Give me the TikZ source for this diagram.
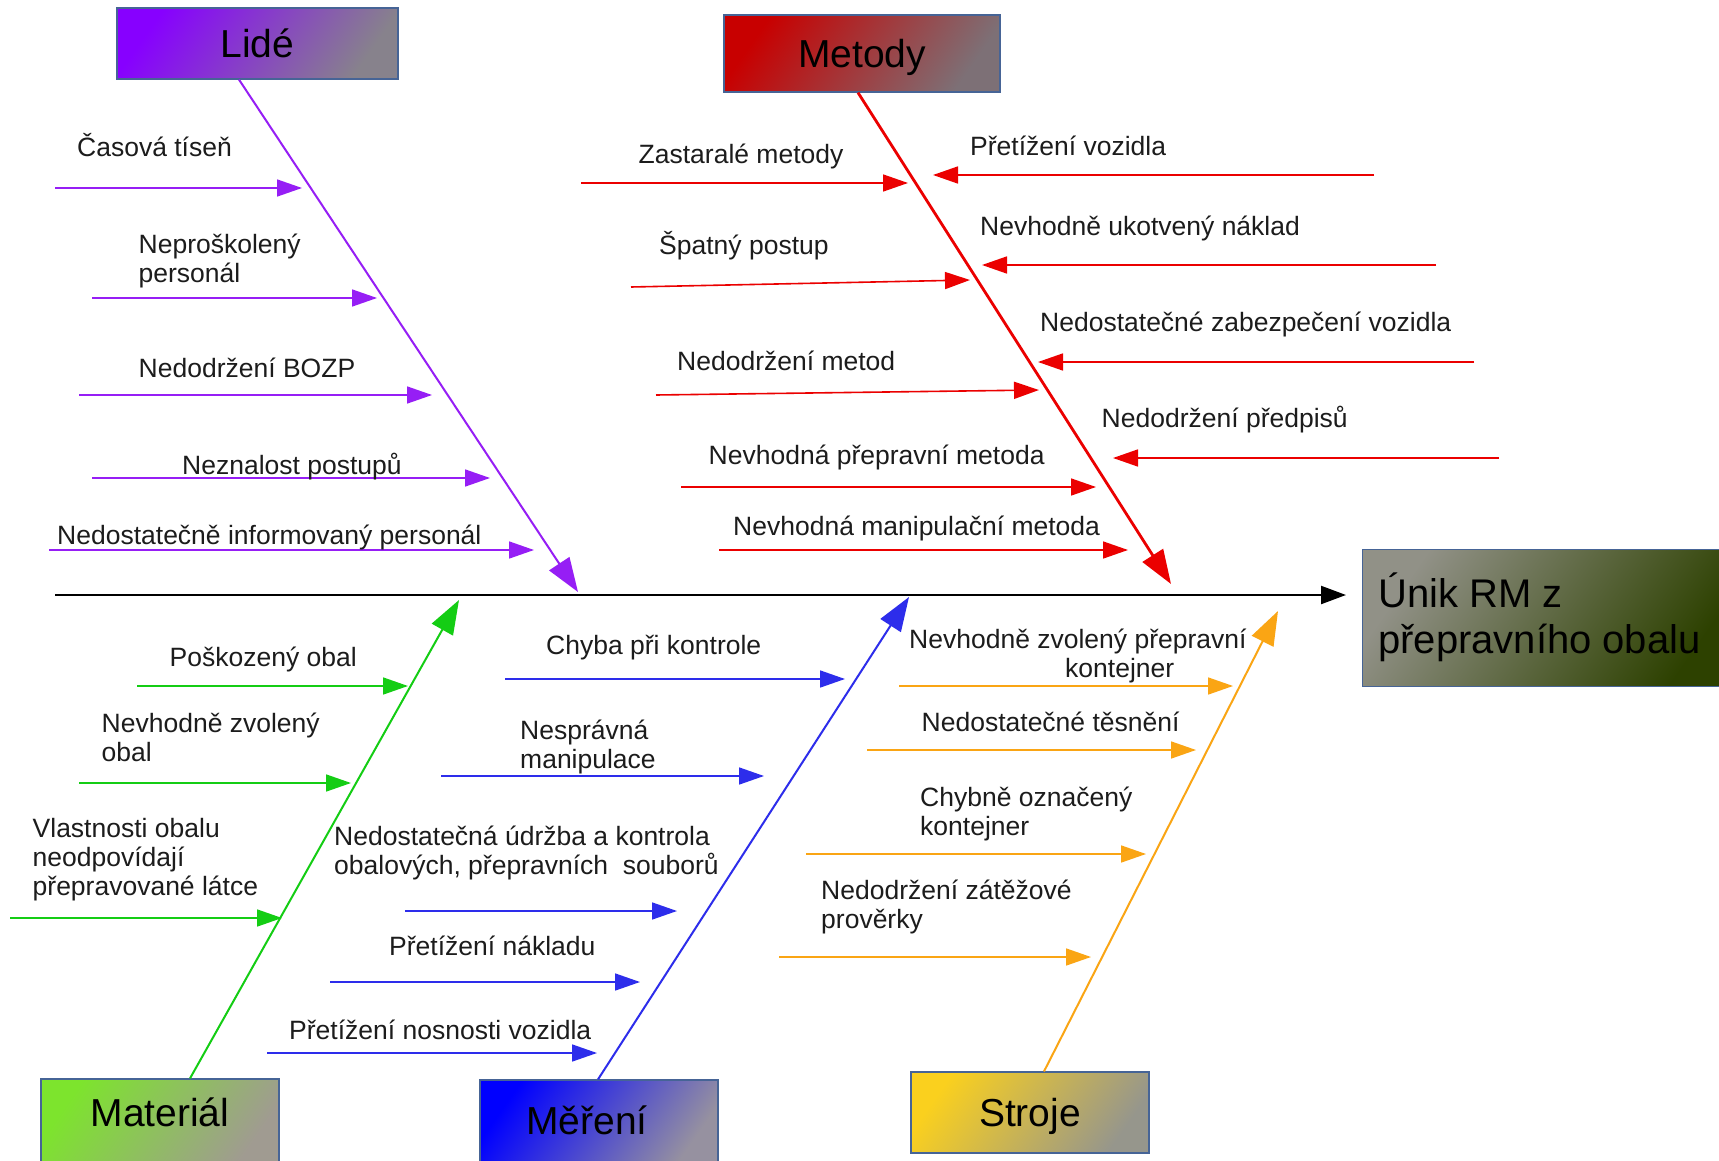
\documentclass[tikz,border=0pt]{standalone}
\usepackage{fontspec}
\setmainfont{Liberation Sans}
\usetikzlibrary{arrows.meta}
\definecolor{txtc}{RGB}{28,28,28}
\definecolor{purp}{RGB}{150,30,245}
\definecolor{redc}{RGB}{235,0,0}
\definecolor{grnc}{RGB}{20,205,20}
\definecolor{bluc}{RGB}{45,45,235}
\definecolor{orgc}{RGB}{250,165,20}
\definecolor{boxedge}{RGB}{70,100,150}
\definecolor{lideL}{RGB}{135,0,255}
\definecolor{lideR}{RGB}{135,130,140}
\definecolor{metL}{RGB}{200,0,0}
\definecolor{metR}{RGB}{125,112,118}
\definecolor{matL}{RGB}{125,228,45}
\definecolor{matR}{RGB}{160,155,145}
\definecolor{merL}{RGB}{0,0,255}
\definecolor{merR}{RGB}{150,145,160}
\definecolor{strL}{RGB}{250,208,30}
\definecolor{strR}{RGB}{150,150,140}
\definecolor{outL}{RGB}{145,145,135}
\definecolor{outR}{RGB}{45,65,0}
\tikzset{
  lab/.style={anchor=base west, inner sep=0pt, text=txtc, font=\fontsize{26.5}{29}\selectfont, align=left},
  biglab/.style={anchor=base west, inner sep=0pt, text=black, font=\fontsize{40}{46}\selectfont, align=left},
  catbox/.style={draw=boxedge, line width=1.2pt, inner sep=0pt, text height=28pt, text depth=0pt, font=\fontsize{39}{44}\selectfont, text=black},
  grad/.style n args={2}{left color=#1, right color=#2, shading angle=55},
  cause/.style={line width=1.6pt, -{Triangle[length=25pt,width=17pt]}},
  bone/.style={line width=2pt, -{Triangle[length=34pt,width=24pt]}},
  spine/.style={line width=2.2pt, black, -{Triangle[length=25pt,width=18pt]}}
}
\begin{document}
\begin{tikzpicture}[x=1pt,y=-1pt]
\useasboundingbox[fill=white] (0,0) rectangle (1719,1161);

% ---------- category boxes ----------
\node[catbox, grad={lideL}{lideR}, minimum width=281pt, minimum height=71pt] (lide) at (257.5,43.5) {Lidé};
\node[catbox, grad={metL}{metR}, minimum width=276pt, minimum height=77pt] (metody) at (862,53.5) {Metody};
\node[catbox, grad={matL}{matR}, minimum width=238pt, minimum height=86pt, text depth=19pt] (material) at (160,1122) {Materiál};
\node[catbox, grad={merL}{merR}, minimum width=238pt, minimum height=85pt, text depth=4pt] (mereni) at (599,1122.5) {Měření\hspace*{24pt}};
\node[catbox, grad={strL}{strR}, minimum width=238pt, minimum height=81pt] (stroje) at (1030,1112.5) {Stroje};
\node[draw=boxedge, line width=1.2pt, grad={outL}{outR}, minimum width=372pt, minimum height=137pt, anchor=north west, inner sep=0pt] (out) at (1362,549) {};
\node[biglab] (outtext) at (1378,653) {Únik RM z\\přepravního obalu};

% ---------- spine ----------
\coordinate (sps) at (55,595);
\coordinate (spe) at (1346,595);
\draw[spine] (sps) -- (spe);

% ---------- Lidé ----------
\coordinate (lidetip) at (578,592);
\draw[bone, purp] ([xshift=-18.5pt]lide.south) -- (lidetip);
\coordinate (p1s) at (55,188);  \coordinate (p1e) at (302,188);
\coordinate (p2s) at (92,298);  \coordinate (p2e) at (377,298);
\coordinate (p3s) at (79,395);  \coordinate (p3e) at (432,395);
\coordinate (p4s) at (92,478);  \coordinate (p4e) at (490,478);
\coordinate (p5s) at (49,550);  \coordinate (p5e) at (534,550);
\foreach \i in {1,...,5} \draw[cause, purp] (p\i s) -- (p\i e);
\node[lab] (lp1) at (77,157) {Časová tíseň};
\node[lab] (lp2) at (138.5,283) {Neproškolený\\personál};
\node[lab] (lp3) at (138.5,377) {Nedodržení BOZP};
\node[lab] (lp4) at (182,474) {Neznalost postupů};
\node[lab] (lp5) at (57,544) {Nedostatečně informovaný personál};

% ---------- Metody ----------
\coordinate (mettip) at (1171,584);
\draw[bone, redc, line width=2.8pt] ([xshift=-4pt]metody.south) -- (mettip);
\coordinate (r1s) at (581,183);  \coordinate (r1e) at (908,183);
\coordinate (r2s) at (631,287);  \coordinate (r2e) at (970,280);
\coordinate (r3s) at (656,395);  \coordinate (r3e) at (1039,390);
\coordinate (r4s) at (681,487);  \coordinate (r4e) at (1096,487);
\coordinate (r5s) at (719,550);  \coordinate (r5e) at (1128,550);
\coordinate (r6s) at (1374,175); \coordinate (r6e) at (933,175);
\coordinate (r7s) at (1436,265); \coordinate (r7e) at (982,265);
\coordinate (r8s) at (1474,362); \coordinate (r8e) at (1038,362);
\coordinate (r9s) at (1499,458); \coordinate (r9e) at (1113,458);
\foreach \i in {1,...,9} \draw[cause, redc] (r\i s) -- (r\i e);
\node[lab] (lr1) at (638.5,164) {Zastaralé metody};
\node[lab] (lr2) at (659,254.5) {Špatný postup};
\node[lab] (lr3) at (677,370) {Nedodržení metod};
\node[lab] (lr4) at (708.5,464) {Nevhodná přepravní metoda};
\node[lab] (lr5) at (733,535) {Nevhodná manipulační metoda};
\node[lab] (lr6) at (970,156) {Přetížení vozidla};
\node[lab] (lr7) at (980,236) {Nevhodně ukotvený náklad};
\node[lab] (lr8) at (1040,331) {Nedostatečné zabezpečení vozidla};
\node[lab] (lr9) at (1101.5,427) {Nedodržení předpisů};

% ---------- Materiál ----------
\coordinate (mattip) at (459,600);
\draw[bone, grnc] ([xshift=30pt]material.north) -- (mattip);
\coordinate (g1s) at (137,686); \coordinate (g1e) at (408,686);
\coordinate (g2s) at (79,783);  \coordinate (g2e) at (351,783);
\coordinate (g3s) at (10,918);  \coordinate (g3e) at (282,918);
\foreach \i in {1,2,3} \draw[cause, grnc] (g\i s) -- (g\i e);
\node[lab] (lg1) at (169.5,666) {Poškozený obal};
\node[lab] (lg2) at (101.5,761.5) {Nevhodně zvolený\\obal};
\node[lab] (lg3) at (32.5,895) {Vlastnosti obalu\\neodpovídají\\přepravované látce};

% ---------- Měření ----------
\coordinate (mertip) at (909,597);
\draw[bone, bluc] ([xshift=-1pt]mereni.north) -- (mertip);
\coordinate (b1s) at (505,679); \coordinate (b1e) at (845,679);
\coordinate (b2s) at (441,776); \coordinate (b2e) at (764,776);
\coordinate (b3s) at (405,911); \coordinate (b3e) at (677,911);
\coordinate (b4s) at (330,982); \coordinate (b4e) at (640,982);
\coordinate (b5s) at (267,1053); \coordinate (b5e) at (597,1053);
\foreach \i in {1,...,5} \draw[cause, bluc] (b\i s) -- (b\i e);
\node[lab] (lb1) at (546,654) {Chyba při kontrole};
\node[lab] (lb2) at (520,768) {Nesprávná\\manipulace};
\node[lab] (lb3) at (334,874) {Nedostatečná údržba a kontrola\\obalových, přepravních\ \ souborů};
\node[lab] (lb4) at (389,955) {Přetížení nákladu};
\node[lab] (lb5) at (289,1039) {Přetížení nosnosti vozidla};

% ---------- Stroje ----------
\coordinate (strtip) at (1278,611);
\draw[bone, orgc] ([xshift=14pt]stroje.north) -- (strtip);
\coordinate (o1s) at (899,686); \coordinate (o1e) at (1233,686);
\coordinate (o2s) at (867,750); \coordinate (o2e) at (1196,750);
\coordinate (o3s) at (806,854); \coordinate (o3e) at (1146,854);
\coordinate (o4s) at (779,957); \coordinate (o4e) at (1091,957);
\foreach \i in {1,...,4} \draw[cause, orgc] (o\i s) -- (o\i e);
\node[lab] (lo1) at (909,677) {Nevhodně zvolený přepravní\\\hspace*{156pt}kontejner};
\node[lab] (lo2) at (921.5,731) {Nedostatečné těsnění};
\node[lab] (lo3) at (920,835.5) {Chybně označený\\kontejner};
\node[lab] (lo4) at (821,928) {Nedodržení zátěžové\\prověrky};
\end{tikzpicture}
\end{document}
